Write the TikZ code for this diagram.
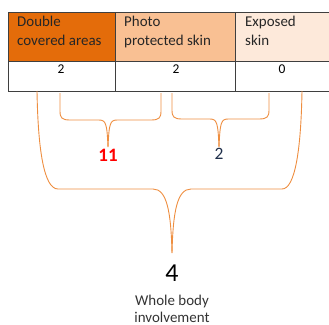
\documentclass[tikz,border=0pt]{standalone}
\usepackage{fontspec}
\setmainfont{Carlito}
\usepackage{xcolor}
\usepackage{tikz}
\usetikzlibrary{positioning}
\definecolor{hdrdark}{HTML}{E46C0A}
\definecolor{hdrmid}{HTML}{F9C093}
\definecolor{hdrlight}{HTML}{FDE9DA}
\definecolor{bracecol}{HTML}{EE8E40}
\definecolor{gridcol}{HTML}{3F3F3F}
\definecolor{navy}{HTML}{1F2F4A}

\begin{document}
\begin{tikzpicture}[
  x=1bp,y=-1bp,
  cell/.style={draw=gridcol,line width=0.9bp,anchor=north west,inner sep=0pt,minimum height=49bp},
  valcell/.style={cell,minimum height=30bp,fill=white},
  hdr/.style={anchor=north west,align=left,inner sep=0pt,font=\fontsize{15}{19}\selectfont,text=black!85},
  val/.style={inner sep=0pt,font=\fontsize{13.5}{14}\selectfont},
  brace/.style={draw=bracecol,line width=0.9bp},
  total/.style={inner sep=0pt,align=center}
]
\useasboundingbox (0,0) rectangle (329,325);

% table header
\node[cell,fill=hdrdark,minimum width=107bp] (dbl) at (8,12) {};
\node[cell,fill=hdrmid,minimum width=120bp] (photo) at (115,12) {};
\node[cell,fill=hdrlight,minimum width=110bp] (expo) at (235,12) {};
\node[hdr] at ([xshift=9bp,yshift=-4bp]dbl.north west) {Double\\covered areas};
\node[hdr] at ([xshift=9bp,yshift=-4bp]photo.north west) {Photo\\protected skin};
\node[hdr] at ([xshift=10bp,yshift=-4bp]expo.north west) {Exposed\\skin};

% table values
\node[valcell,minimum width=107bp] (vdbl) at (8,61) {};
\node[valcell,minimum width=120bp] (vphoto) at (115,61) {};
\node[valcell,minimum width=110bp] (vexpo) at (235,61) {};
\node[val] at (61,69) {2};
\node[val] at (176,69) {2};
\node[val] at (282,69) {0};

% brace ends
\coordinate (a1) at (60,93);
\coordinate (a2) at (161,93);
\coordinate (t1) at (108,147);
\coordinate (c1) at (172,93);
\coordinate (c2) at (269,93);
\coordinate (t2) at (219,147);
\coordinate (w1) at (37,91);
\coordinate (w2) at (302,91);
\coordinate (t3) at (172,253);

% labels
\node[total,below=2bp of t1,text=red,font=\fontsize{19}{20}\selectfont\bfseries] (n11) {11};
\node[total,below=1bp of t2,text=navy,font=\fontsize{17.5}{18}\selectfont] (n2) {2};
\node[total,below=12bp of t3,font=\fontsize{26}{26}\selectfont] (n4) {4};
\node[total,below=13bp of n4,text=black!80,font=\fontsize{15}{17}\selectfont] (whole) {Whole body\\involvement};

% braces
\draw[brace] (a1) -- (60,111) .. controls (60,118) and (62,120) .. (70,120) -- (99,120)
  .. controls (106,120) and (107,124) .. (108,147);
\draw[brace] (a2) -- (161,111) .. controls (161,118) and (159,120) .. (151,120) -- (117,120)
  .. controls (110,120) and (109,124) .. (t1);
\draw[brace] (c1) -- (172,110) .. controls (172,117) and (174,119) .. (182,119) -- (210,119)
  .. controls (217,119) and (218,123) .. (t2);
\draw[brace] (c2) -- (269,110) .. controls (269,117) and (267,119) .. (259,119) -- (228,119)
  .. controls (221,119) and (220,123) .. (t2);
\draw[brace] (w1) .. controls (38,150) and (44,189) .. (58,189) -- (153,189)
  .. controls (167,189) and (171,212) .. (t3);
\draw[brace] (w2) .. controls (301,150) and (295,189) .. (282,189) -- (191,189)
  .. controls (177,189) and (173,212) .. (t3);
\end{tikzpicture}
\end{document}
